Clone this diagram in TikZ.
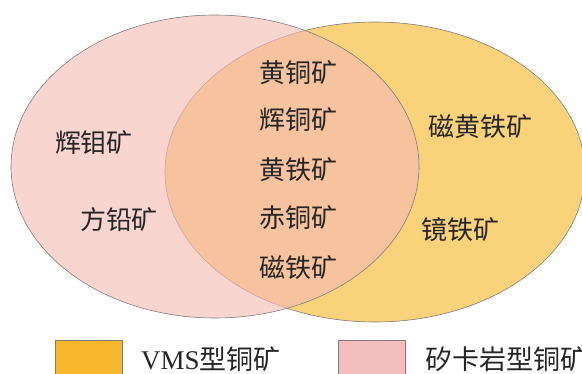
\documentclass[tikz,border=0pt]{standalone}
\usepackage{fontspec}
\setmainfont{Liberation Serif}
\newfontfamily\cjk{Noto Sans CJK SC}
\usetikzlibrary{shapes.geometric}
\definecolor{vms}{RGB}{246,184,42}
\definecolor{skarn}{RGB}{245,188,180}
\definecolor{skarnkey}{RGB}{244,190,190}
\definecolor{edgegray}{RGB}{125,125,125}
\tikzset{
  setshape/.style={ellipse, draw=edgegray, line width=0.6pt, inner sep=0pt, fill opacity=0.63, draw opacity=1},
  lbl/.style={font=\cjk\fontsize{26}{26}\selectfont, inner sep=0pt, text=black!85},
  keybox/.style={draw=edgegray, line width=0.6pt, minimum width=67pt, minimum height=67pt, inner sep=0pt},
  keytext/.style={font=\fontsize{27}{27}\selectfont, anchor=west, inner sep=0pt, text=black!85}
}
\begin{document}
\begin{tikzpicture}[x=1pt,y=-1pt]
\useasboundingbox (0,0) rectangle (582,374);
\node[setshape, fill=vms, minimum width=420pt, minimum height=300pt] (vmsset) at (375,172) {};
\node[setshape, fill=skarn, minimum width=408pt, minimum height=303pt] (skarnset) at (215,166.5) {};
% left only
\node[lbl] (a1) at (94,143) {辉钼矿};
\node[lbl] (a2) at (119,220) {方铅矿};
% intersection
\node[lbl] (b1) at (298,73) {黄铜矿};
\node[lbl] (b2) at (298,120) {辉铜矿};
\node[lbl] (b3) at (298,170) {黄铁矿};
\node[lbl] (b4) at (298,218) {赤铜矿};
\node[lbl] (b5) at (298,268) {磁铁矿};
% right only
\node[lbl] (c1) at (480,127) {磁黄铁矿};
\node[lbl] (c2) at (460,230) {镜铁矿};
% legend
\node[keybox, fill=vms] (k1) at (88.5,373.5) {};
\node[keytext] (t1) at (141,359) {VMS{\cjk 型铜矿}};
\node[keybox, fill=skarnkey] (k2) at (371.5,373.5) {};
\node[keytext] (t2) at (425,359) {\cjk 矽卡岩型铜矿};
\end{tikzpicture}
\end{document}
